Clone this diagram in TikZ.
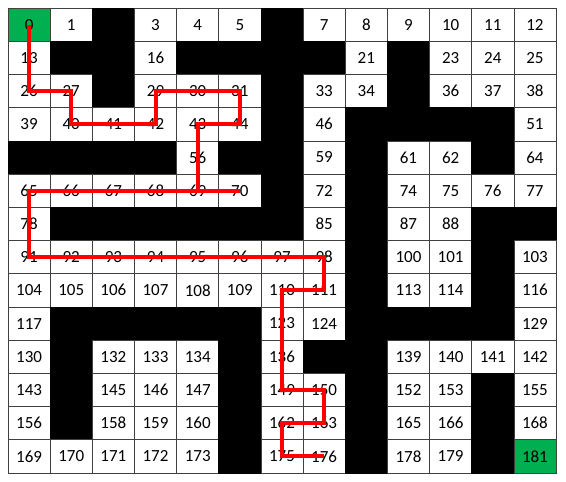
\documentclass[tikz,border=0pt]{standalone}
\usepackage{fontspec}
\setmainfont{Carlito}
\definecolor{xlgreen}{RGB}{0,176,80}
\begin{document}
\begin{tikzpicture}[x=1pt,y=-1pt,
  cell/.style={draw=black!75,fill=white,line width=0.7pt,minimum width=42.154pt,minimum height=33.214pt,inner sep=0pt,anchor=center,font=\fontsize{17}{20}\selectfont},
  blk/.style={cell,fill=black,draw=black},
  cf0/.style={fill=xlgreen},
  cf181/.style={fill=xlgreen},
  route/.style={draw=red,line width=4pt,line join=miter}]
\useasboundingbox (0,0) rectangle (566,482);
\foreach \b in {2,6,14,15,17,18,19,20,22,28,32,35,45,47,48,49,50,52,53,54,55,57,58,60,63,71,73,79,80,81,82,83,84,86,89,90,99,102,112,115,118,119,120,121,122,125,126,127,128,131,135,137,138,144,148,151,154,157,161,164,167,174,177,180}{\expandafter\xdef\csname isblk\b\endcsname{1}}
\foreach \n in {0,...,181}{
  \pgfmathtruncatemacro\r{int(\n/13)}
  \pgfmathtruncatemacro\c{\n-13*\r}
  \ifcsname isblk\n\endcsname
    \node[blk] (c\n) at ({8+(\c+0.5)*42.154},{8+(\r+0.5)*33.214}) {};
  \else
    \node[cell,cf\n/.try] (c\n) at ({8+(\c+0.5)*42.154},{8+(\r+0.5)*33.214}) {\n};
  \fi
}
\draw[route] (c0.center) -- (c26.center) -- (c27.center) -- (c40.center) -- (c42.center) -- (c29.center) -- (c31.center) -- (c44.center) -- (c43.center) -- (c69.center) -- (c70.center) -- (c65.center) -- (c91.center) -- (c98.center) -- (c111.center) -- (c110.center) -- (c149.center) -- (c150.center) -- (c163.center) -- (c162.center) -- (c175.center) -- (c176.center);
\end{tikzpicture}
\end{document}
